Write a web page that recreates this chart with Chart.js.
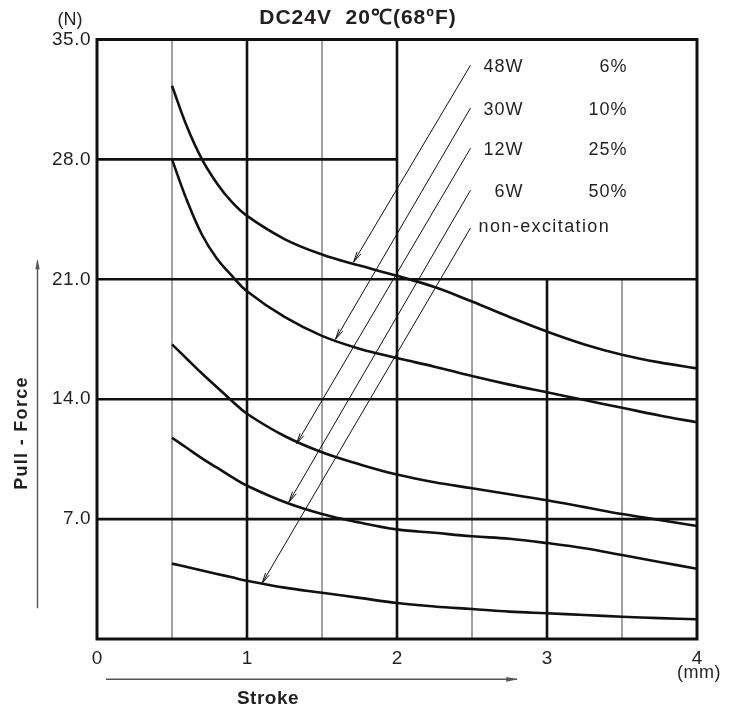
<!DOCTYPE html>
<html>
<head>
<meta charset="utf-8">
<title>Pull force - stroke</title>
<script src="https://cdn.jsdelivr.net/npm/chart.js@4.4.1/dist/chart.umd.min.js"></script>
<style>
  html, body { margin: 0; padding: 0; background: #fff; }
  #wrap { width: 737px; height: 709px; }
</style>
</head>
<body>
<div id="wrap"><canvas id="chart" width="737" height="709"></canvas></div>
<script>
// stroke (mm) shared by every curve
const strokeMm = [0.5, 0.6, 0.7, 0.8, 0.9, 1.0, 1.25, 1.5, 1.75, 2.0, 2.25, 2.5, 2.75, 3.0, 3.25, 3.5, 3.75, 4.0];

// pull force (N)
const force48W = [32.3, 29.9, 28.0, 26.6, 25.5, 24.7, 23.35, 22.45, 21.8, 21.2, 20.55, 19.7, 18.8, 17.95, 17.2, 16.6, 16.15, 15.8];
const force30W = [28.0, 25.6, 23.6, 22.2, 21.2, 20.3, 18.8, 17.7, 16.95, 16.4, 15.9, 15.35, 14.85, 14.4, 13.95, 13.5, 13.05, 12.65];
const force12W = [17.2, 16.35, 15.5, 14.7, 13.9, 13.15, 11.85, 10.9, 10.2, 9.6, 9.15, 8.8, 8.45, 8.1, 7.7, 7.3, 6.95, 6.6];
const force6W = [11.75, 11.15, 10.55, 10.0, 9.45, 8.95, 8.0, 7.3, 6.8, 6.4, 6.2, 6.0, 5.85, 5.6, 5.3, 4.9, 4.5, 4.1];
const forceOff = [4.4, 4.2, 4.0, 3.8, 3.6, 3.4, 3.0, 2.7, 2.4, 2.1, 1.9, 1.75, 1.6, 1.5, 1.4, 1.3, 1.22, 1.15];

const seriesNames = ['48W', '30W', '12W', '6W', 'non-excitation'];
const dutyCycles = ['6%', '10%', '25%', '50%', ''];

// leader lines: from the label to the curve
const leaderFromX = [2.49, 2.49, 2.49, 2.49, 2.49];
const leaderFromY = [33.5, 31.0, 28.65, 26.2, 24.0];
const leaderToX = [1.71, 1.59, 1.33, 1.28, 1.10];
const leaderToY = [22.0, 17.5, 11.4, 8.0, 3.25];

const xTicks = [0, 1, 2, 3, 4];
const yTicks = [7, 14, 21, 28, 35];

const FONT = '"Liberation Sans", Arial, Helvetica, sans-serif';
const curves = [force48W, force30W, force12W, force6W, forceOff];

const curveSets = curves.map((values, i) => ({
  label: seriesNames[i],
  data: strokeMm.map((x, j) => ({ x, y: values[j] })),
  borderColor: '#111',
  borderWidth: 2.6,
  pointRadius: 0,
  tension: 0.4,
  fill: false,
}));

const leaderSets = seriesNames.map((name, i) => ({
  label: 'leader ' + name,
  data: [{ x: leaderFromX[i], y: leaderFromY[i] }, { x: leaderToX[i], y: leaderToY[i] }],
  borderColor: '#111',
  borderWidth: 1,
  pointRadius: 0,
  tension: 0,
  fill: false,
  isLeader: true,
}));

function arrowHead(ctx, x1, y1, x2, y2, len, half, filled) {
  const a = Math.atan2(y2 - y1, x2 - x1);
  ctx.beginPath();
  ctx.moveTo(x2 - len * Math.cos(a - half), y2 - len * Math.sin(a - half));
  ctx.lineTo(x2, y2);
  ctx.lineTo(x2 - len * Math.cos(a + half), y2 - len * Math.sin(a + half));
  if (filled) { ctx.closePath(); ctx.fill(); } else { ctx.stroke(); }
}

function text(ctx, str, x, y, size, opts = {}) {
  ctx.save();
  ctx.font = (opts.bold ? 'bold ' : '') + size + 'px ' + FONT;
  ctx.fillStyle = opts.color || '#231f20';
  ctx.textAlign = opts.align || 'center';
  ctx.textBaseline = 'middle';
  ctx.letterSpacing = (opts.spacing || 0) + 'px';
  ctx.translate(x, y);
  if (opts.rotate) ctx.rotate(opts.rotate);
  ctx.fillText(str, 0, 0);
  ctx.restore();
}

const gridPlugin = {
  id: 'forceGrid',
  beforeDatasetsDraw(chart) {
    const { ctx, chartArea: a, scales: { x, y } } = chart;
    const line = (x1, y1, x2, y2, w, c) => {
      ctx.beginPath();
      ctx.lineWidth = w;
      ctx.strokeStyle = c;
      ctx.moveTo(x1, y1);
      ctx.lineTo(x2, y2);
      ctx.stroke();
    };
    ctx.save();
    // vertical lines; the ones right of 2 mm stop at 21 N (legend box above)
    [[0.5, 35, false], [1, 35, true], [1.5, 35, false], [2, 35, true],
     [2.5, 21, false], [3, 21, true], [3.5, 21, false]].forEach(([v, top, bold]) => {
      const px = x.getPixelForValue(v);
      line(px, y.getPixelForValue(0), px, y.getPixelForValue(top), bold ? 2.6 : 1, bold ? '#111' : '#444');
    });
    // horizontal lines
    [[28, 2], [21, 4], [14, 4], [7, 4]].forEach(([v, right]) => {
      const py = y.getPixelForValue(v);
      line(x.getPixelForValue(0), py, x.getPixelForValue(right), py, 2.6, '#111');
    });
    // frame
    ctx.lineWidth = 3;
    ctx.strokeStyle = '#111';
    ctx.strokeRect(a.left, a.top, a.right - a.left, a.bottom - a.top);
    ctx.restore();
  },
  afterDatasetsDraw(chart) {
    const { ctx, chartArea: a, scales: { x, y } } = chart;
    ctx.save();
    ctx.strokeStyle = '#111';
    ctx.lineWidth = 1;
    chart.data.datasets.forEach((ds, i) => {
      if (!ds.isLeader) return;
      const pts = chart.getDatasetMeta(i).data;
      const p0 = pts[0], p1 = pts[1];
      arrowHead(ctx, p0.x, p0.y, p1.x, p1.y, 11, 0.2, false);
      const k = seriesNames.indexOf(ds.label.replace('leader ', ''));
      const ty = p0.y + 2;
      if (dutyCycles[k]) {
        text(ctx, seriesNames[k], p0.x + 53, ty, 18, { align: 'right', spacing: 1 });
        text(ctx, dutyCycles[k], p0.x + 157, ty, 18, { align: 'right', spacing: 1 });
      } else {
        text(ctx, seriesNames[k], p0.x + 8, ty - 3, 18, { align: 'left', spacing: 1.4 });
      }
    });

    // tick labels
    yTicks.forEach(v => text(ctx, v.toFixed(1), a.left - 6, y.getPixelForValue(v), 19, { align: 'right', spacing: 0.5 }));
    xTicks.forEach(v => text(ctx, String(v), x.getPixelForValue(v), a.bottom + 20, 19));
    text(ctx, '(mm)', x.getPixelForValue(4) + 2, a.bottom + 34, 18, { spacing: 0.5 });
    text(ctx, '(N)', a.left - 27, 20, 18);

    // title
    text(ctx, 'DC24V  20℃(68ºF)', 358, 18, 21, { bold: true, spacing: 1 });

    // axis titles with arrows
    ctx.strokeStyle = '#555';
    ctx.fillStyle = '#555';
    ctx.lineWidth = 1.4;
    const ax = a.left - 59.5;
    const ay0 = y.getPixelForValue(1.8), ay1 = y.getPixelForValue(22.1);
    ctx.beginPath(); ctx.moveTo(ax, ay0); ctx.lineTo(ax, ay1); ctx.stroke();
    arrowHead(ctx, ax, ay0, ax, ay1 - 1, 10, 0.22, true);
    text(ctx, 'Pull - Force', a.left - 75, 433, 18, { bold: true, spacing: 1.3, rotate: -Math.PI / 2 });

    const bx0 = x.getPixelForValue(0.06), bx1 = x.getPixelForValue(2.8);
    const by = a.bottom + 40.3;
    ctx.beginPath(); ctx.moveTo(bx0, by); ctx.lineTo(bx1, by); ctx.stroke();
    arrowHead(ctx, bx0, by, bx1 + 1, by, 12, 0.2, true);
    text(ctx, 'Stroke', x.getPixelForValue(1.14), a.bottom + 60, 19, { bold: true, spacing: 0.5 });
    ctx.restore();
  },
};

new Chart(document.getElementById('chart'), {
  type: 'line',
  data: { datasets: [...curveSets, ...leaderSets] },
  options: {
    responsive: false,
    animation: false,
    layout: { padding: { left: 97, top: 39.5, right: 40, bottom: 70 } },
    scales: {
      x: { type: 'linear', min: 0, max: 4, display: false },
      y: { type: 'linear', min: 0, max: 35, display: false },
    },
    plugins: {
      legend: { display: false },
      tooltip: { enabled: false },
    },
  },
  plugins: [gridPlugin],
});
</script>
</body>
</html>
